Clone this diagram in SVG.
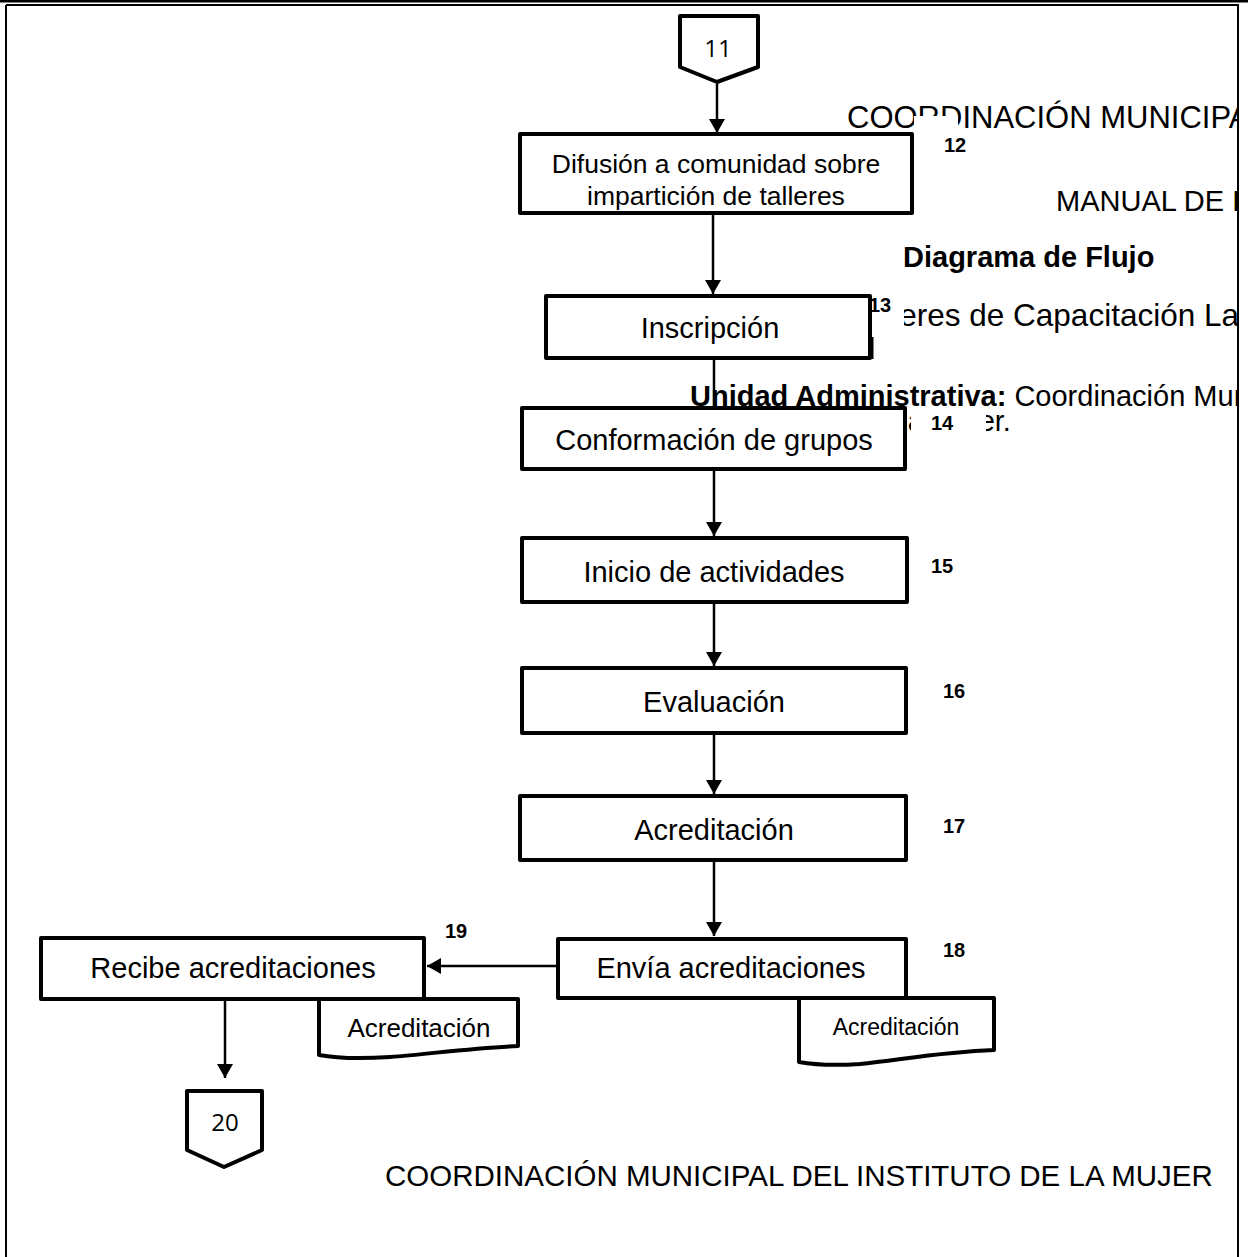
<svg xmlns="http://www.w3.org/2000/svg" width="1248" height="1257" viewBox="0 0 1248 1257">
<style>
.hdr{font-family:"Liberation Sans",Arial,sans-serif;font-size:29px;fill:#000}
.b{font-weight:bold}
.box{fill:#fff;stroke:#000;stroke-width:4;stroke-linejoin:round}
.t{font-family:"Liberation Sans",Arial,sans-serif;font-size:29px;fill:#000;text-anchor:middle}
.num{font-family:"Liberation Sans",Arial,sans-serif;font-size:20px;font-weight:bold;fill:#000}
.con{font-family:"Open Sans","Noto Sans",sans-serif;font-size:24px;fill:#000;text-anchor:middle}
.ln{stroke:#000;stroke-width:2.5;fill:none}
.cov{fill:#fff}
</style>
<defs>
<marker id="ah" viewBox="0 0 14 16" refX="14" refY="8" markerWidth="14" markerHeight="16" markerUnits="userSpaceOnUse" orient="auto">
<path d="M0,0 L14,8 L0,16 z" fill="#000"/>
</marker>
<clipPath id="pg"><rect x="0" y="0" width="1237" height="1257"/></clipPath>
</defs>
<rect width="1248" height="1257" fill="#fff"/>
<g id="frame">
<rect x="0" y="0" width="1248" height="2.5" fill="#000"/>
<path d="M6,5 H1238 V1257 M6,5 V1257" stroke="#000" stroke-width="2" fill="none"/>
</g>
<g id="header" clip-path="url(#pg)">
<text class="hdr" x="847" y="128" style="font-size:31px">COORDINACIÓN MUNICIPAL DEL INSTITUTO DE LA MUJER</text>
<text class="hdr" x="1056" y="211">MANUAL DE PROCEDIMIENTOS</text>
<text class="hdr b" x="903" y="267">Diagrama de Flujo</text>
<text class="hdr" x="852" y="326" style="font-size:31.5px">Talleres de Capacitación Laboral</text>
<text class="hdr" x="690" y="406"><tspan class="b">Unidad Administrativa:</tspan> Coordinación Municipal del Instituto</text>
<text class="hdr" x="861" y="431">de la Mujer.</text>
</g>
<g id="connectors">
<line class="ln" x1="717" y1="84" x2="717" y2="133" marker-end="url(#ah)"/>
<line class="ln" x1="713" y1="213" x2="713" y2="294" marker-end="url(#ah)"/>
<line class="ln" x1="714" y1="358" x2="714" y2="408"/>
<line class="ln" x1="714" y1="470" x2="714" y2="536" marker-end="url(#ah)"/>
<line class="ln" x1="714" y1="603" x2="714" y2="666" marker-end="url(#ah)"/>
<line class="ln" x1="714" y1="734" x2="714" y2="794" marker-end="url(#ah)"/>
<line class="ln" x1="714" y1="861" x2="714" y2="936" marker-end="url(#ah)"/>
<line class="ln" x1="558" y1="966" x2="427" y2="966" marker-end="url(#ah)"/>
<line class="ln" x1="225" y1="1001" x2="225" y2="1078" marker-end="url(#ah)"/>
</g>
<g id="n11">
<polygon class="box" points="680,16 758,16 758,67 717,82 680,67"/>
<text class="con" x="718" y="57">11</text>
</g>
<g id="n12">
<rect class="box" x="520" y="134" width="392" height="79"/>
<text class="t" x="716" y="173" style="font-size:26.5px">Difusión a comunidad sobre</text>
<text class="t" x="716" y="205" style="font-size:26.5px">impartición de talleres</text>
<rect class="cov" x="914" y="116" width="44" height="18"/>
<text class="num" x="944" y="152">12</text>
</g>
<g id="n13">
<rect class="box" x="546" y="296" width="324" height="62"/>
<text class="t" x="710" y="338">Inscripción</text>
<rect class="cov" x="872" y="290" width="32" height="45"/>
<line x1="872" y1="337" x2="872" y2="359" stroke="#000" stroke-width="3"/>
<text class="num" x="869" y="312">13</text>
</g>
<g id="n14">
<rect class="box" x="522" y="408" width="383" height="61"/>
<text class="t" x="714" y="450">Conformación de grupos</text>
<rect class="cov" x="911" y="409" width="75" height="40"/>
<text class="num" x="931" y="430">14</text>
</g>
<g id="n15">
<rect class="box" x="522" y="538" width="385" height="64"/>
<text class="t" x="714" y="582">Inicio de actividades</text>
<text class="num" x="931" y="573">15</text>
</g>
<g id="n16">
<rect class="box" x="522" y="668" width="384" height="65"/>
<text class="t" x="714" y="712">Evaluación</text>
<text class="num" x="943" y="698">16</text>
</g>
<g id="n17">
<rect class="box" x="520" y="796" width="386" height="64"/>
<text class="t" x="714" y="840">Acreditación</text>
<text class="num" x="943" y="833">17</text>
</g>
<g id="n18">
<rect class="box" x="558" y="939" width="348" height="59"/>
<text class="t" x="731" y="978">Envía acreditaciones</text>
<path class="box" d="M799,998 H994 V1050 C940,1052 900,1060 860,1064 C830,1066 810,1064 799,1062 Z"/>
<text class="t" x="896" y="1035" style="font-size:23px">Acreditación</text>
<text class="num" x="943" y="957">18</text>
</g>
<g id="n19">
<rect class="box" x="41" y="938" width="383" height="61"/>
<text class="t" x="233" y="978">Recibe acreditaciones</text>
<path class="box" d="M319,999 H518 V1046 C470,1048 430,1054 390,1057 C360,1059 335,1058 319,1055 Z"/>
<text class="t" x="419" y="1037" style="font-size:26px">Acreditación</text>
<text class="num" x="445" y="938">19</text>
</g>
<g id="n20">
<polygon class="box" points="187,1091 262,1091 262,1150 224,1167 187,1150"/>
<text class="con" x="225" y="1131">20</text>
</g>
<g id="footer">
<text class="hdr" x="385" y="1186" style="font-size:29.5px">COORDINACIÓN MUNICIPAL DEL INSTITUTO DE LA MUJER</text>
</g>
</svg>
